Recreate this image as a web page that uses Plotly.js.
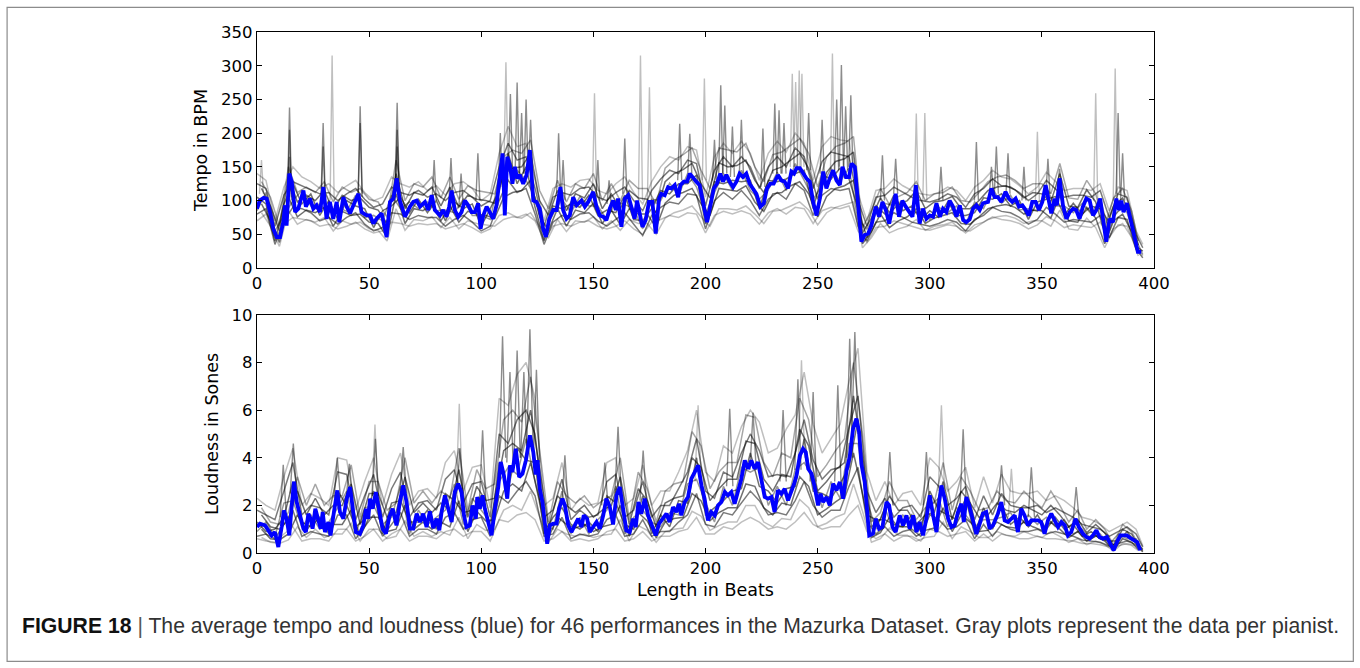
<!DOCTYPE html>
<html>
<head>
<meta charset="utf-8">
<script src="https://cdn.plot.ly/plotly-3.0.1.min.js"></script>
<style>html,body{margin:0;padding:0;background:#fff;}#chart{width:1360px;height:668px;}</style>
</head>
<body>
<div id="chart"></div>
<script>
// ---------- Mean tempo (blue) ----------
const tempoMeanBeats = [0,1.2,3,4.3,5.8,7.3,8.8,10.3,11.7,12.5,13.2,14.4,15.5,17,18.4,20.7,21.8,23.6,25.1,26.6,28.1,29.6,31,32.5,34,35.5,36.7,38.5,40,41.5,43,45.2,46.6,48.9,50.4,51.9,53.3,55.6,57.8,59.3,60.8,62.3,63.7,66,68.2,69.7,71.2,72.7,74.9,76.4,77.9,79.3,81.6,83,84.5,85.7,86.8,88.2,89.7,91.2,92.7,94.2,95.7,97.2,98.6,99.7,100.9,102.4,103.8,105.3,106.8,108,109.5,110.5,111.6,112.8,113.9,115,116,117.2,118.7,120.2,121.7,123.2,124.6,126.1,127.6,128.8,130.3,132.1,133.6,135.3,136.5,138,139.5,141,142.5,144.7,146.2,147.7,149.9,151.4,152.9,154.4,155.8,157.3,158.8,160,161,162.5,164,165.5,167,168.4,169.5,170.7,171.9,173.3,174.8,176.3,177.8,179.3,180.3,181.8,183.3,184.8,186.3,187.8,188.8,190.3,191.8,193,194.4,195.9,197.4,198.9,200.7,202.2,203.7,205.1,206.6,207.8,209.3,210.8,212.3,213.8,215.2,216.7,218.2,219.7,221.2,222.7,224.5,226,227.4,228.9,230.4,232.3,233.8,235.3,236.8,238.3,239.5,240.6,242.1,243.5,245,246.5,248,249.5,251,252.5,253.9,255.4,256.9,258.4,259.9,261.1,262.6,264,265.1,266.6,268.1,269.5,271,272.5,274,275.9,277.4,278.9,280.4,281.9,283.4,284.8,286.3,287.8,289.3,290.8,292.3,293.8,295.5,297,298.5,300,301.5,303,304.5,305.9,307.4,308.9,310.4,311.9,313.4,314.9,316.3,317.8,319.3,320.8,322.3,323.7,326,327.5,328.9,330.4,331.9,333.8,335.3,336.8,338.3,339.8,341.3,342.8,344.2,345.7,347.2,348.7,350.2,351.7,353.2,354.2,355.7,356.7,357.9,359.4,360.9,362.4,363.9,365.3,366.8,368.3,369.8,371.3,372.8,374.3,376,377.2,378.7,380.2,381.7,383.2,384.4,385.4,386.4,387.9,389.1,390.6,392.1,392.8,394.3];
const tempoMean = [88,100,104,103,83,58,46,46,68,93,63,140,128,83,88,115,91,103,88,93,83,120,73,98,73,98,68,105,91,81,93,110,83,78,78,66,73,81,46,98,103,133,100,76,91,98,100,91,98,86,108,86,78,86,76,91,115,86,76,83,100,93,83,83,96,58,78,91,83,73,93,123,170,78,165,152,125,150,133,138,125,138,175,100,98,88,58,46,73,86,86,120,86,73,78,105,93,100,91,98,113,91,78,76,71,88,100,86,103,61,103,108,91,73,100,83,61,71,98,98,51,103,110,108,120,118,123,105,123,128,128,140,133,128,123,98,68,93,118,125,140,128,138,128,120,128,140,135,140,125,118,110,91,96,118,125,125,138,130,128,118,143,140,148,148,140,133,128,98,78,103,143,118,133,145,130,123,150,135,135,155,150,93,39,49,51,63,91,76,98,86,66,91,110,76,100,91,83,76,123,66,88,73,78,76,96,76,88,83,100,91,76,93,71,68,72,88,93,86,96,98,118,105,105,98,113,103,98,103,91,93,86,78,98,98,86,98,123,100,81,103,93,133,93,73,83,88,86,73,91,103,100,78,86,103,71,39,73,68,103,86,100,83,96,78,58,39,24,24];

// ---------- Mean loudness (blue) ----------
const loudMeanBeats = [0,1.3,3.6,5.1,6.5,8,9.5,11,12,13.2,14.4,15.5,16.5,17.7,19.2,20.7,21.8,22.9,23.9,24.8,26,27.3,28.4,29.3,30.3,31.8,32.8,34.3,35.8,37,38.5,40,41.5,42.9,44.1,45.9,47.4,48.6,49.6,50.4,51.6,53,54.5,56,57.5,59,60.5,62.2,63.7,65.2,66.7,68.2,69.7,71.2,72.7,74.1,75.6,77.1,78.6,80.1,81.3,82.3,83.8,85.3,86.8,88.2,89.7,91.2,92.3,93.4,94.9,96.1,97.6,98.2,99.4,100.6,101.6,103.1,104.6,106.1,107.6,108.7,110.1,111.6,112.8,113.9,115.4,116.9,118.4,119.9,121.7,123.2,124.3,125.1,126.1,127.3,128.4,129.4,130.6,132.1,133.6,134.7,136.2,137.3,138.8,140.2,141.7,143.2,144.7,145.7,147.2,148.4,149.9,151.4,152.9,154.4,155.8,157.3,158.8,160.3,161.8,163.2,164.7,166.2,167.7,168.9,170.1,171.4,172.9,174.4,175.9,177.8,179.3,181.1,182.6,184,185.5,187,188.2,189.2,190.7,192.2,193.7,195.2,196.7,198.2,199.6,201.1,202.6,204.1,205.6,207.1,208.6,210,211.5,213,214.5,216,217.5,219,220.4,221.9,223.4,224.9,226.4,227.9,229.4,230.8,232.3,233.8,235.3,236.8,238.3,239.5,240.6,242.1,243.5,244.7,245.8,247.3,248.7,250.2,251.3,252.5,254,255.4,256.9,258.4,259.9,261.4,262.9,264.3,265.8,267.3,268.5,269.5,271,272.1,273,274.7,275.9,277.4,278.9,280.7,281.9,283.4,284.8,286.6,288.1,289.6,291.1,292.6,294.1,295.5,297,298.5,300,301.5,303,304.2,305.2,306.7,308.2,309.7,311.1,312.6,314.1,315.2,316.3,317.6,319.3,320.8,322.3,323.7,325.2,326.7,328.2,330.4,331.9,333.4,334.9,336.4,337.9,339.3,340.8,342.3,343.8,345.3,346.8,348.3,349.7,351.2,352.7,354.2,355.7,357.2,358.7,360.2,361.6,363.1,365,366.5,368.3,369.8,371.3,372.8,374.3,375.7,377.2,379,380.5,382,383.5,385,386.4,387.9,389.9,391.3,392.5,393.9];
const loudMean = [1.09,1.23,1.16,0.95,0.74,0.88,0.25,1.09,1.79,1.44,0.74,2.0,3.0,2.14,1.51,1.02,0.88,1.65,1.44,1.02,1.86,1.44,1.02,1.72,0.88,1.3,0.74,1.72,2.63,1.72,1.44,2.28,2.77,1.72,0.88,0.81,1.16,1.86,1.44,2.28,1.86,2.56,1.72,1.02,0.81,1.51,1.86,1.16,2.14,2.84,2.14,1.02,1.02,1.65,1.3,1.65,1.09,1.75,1.05,1.44,0.95,1.72,2.42,1.93,1.3,2.56,2.91,2.56,1.58,1.09,1.16,2.0,1.44,2.35,1.86,2.42,1.86,1.3,0.74,1.86,2.77,3.82,3.26,2.28,3.68,3.4,4.38,3.19,3.33,3.89,4.94,4.24,3.3,3.9,2.7,2.14,1.16,0.39,1.16,1.23,1.23,1.86,2.28,2.0,1.16,0.88,1.16,1.44,1.09,1.58,1.44,0.88,1.09,1.3,1.02,1.58,2.28,1.95,1.2,2.42,2.77,2.0,0.95,0.88,1.44,1.09,2.14,1.65,2.28,1.58,1.16,0.74,1.23,1.44,1.65,1.3,1.93,1.72,2.07,1.58,2.14,2.35,3.12,3.4,3.68,2.84,2.28,1.37,1.72,1.58,2.0,2.14,2.56,2.42,2.56,2.07,2.56,3.12,3.89,3.54,3.89,3.54,3.82,2.98,2.35,2.28,2.35,1.72,2.63,2.49,2.7,2.21,2.56,2.9,3.26,4.1,4.38,4.24,3.54,3.33,2.77,2.0,2.49,2.14,2.35,2.0,2.91,2.63,2.98,2.28,3.47,4.03,5.22,5.64,5.08,3.75,2.98,1.86,0.74,0.81,1.44,1.02,1.09,2.14,2.0,1.09,0.88,1.58,1.16,1.58,1.02,1.58,0.88,1.3,0.74,1.44,2.42,1.58,0.88,2.14,2.84,2.28,1.44,1.09,1.16,1.72,2.07,1.3,2.35,2.0,1.3,0.8,1.23,1.65,1.72,1.02,1.16,1.65,2.14,1.37,1.3,1.44,1.58,0.88,1.86,1.58,1.16,1.37,1.37,1.37,1.3,0.81,1.37,1.65,1.37,1.09,1.3,1.16,0.74,0.88,1.44,1.09,0.81,0.67,0.6,0.74,0.95,0.67,0.6,0.67,0.39,0.11,0.46,0.74,0.74,0.74,0.6,0.53,0.46,0.11];

// ---------- Gray per-pianist curves ----------
const grayBeats = [0,4,8,12,16,20,24,28,32,36,40,44,48,52,56,60,64,68,72,76,80,84,88,92,96,100,104,108,112,116,120,124,128,132,136,140,144,148,152,156,160,164,168,172,176,180,184,188,192,196,200,204,208,212,216,220,224,228,232,236,240,244,248,252,256,260,264,268,272,276,280,284,288,292,296,300,304,308,312,316,320,324,328,332,336,340,344,348,352,356,360,364,368,372,376,380,384,388,392,395];
const grayBeatsB = [2,6,10,14,18,22,26,30,34,38,42,46,50,54,58,62,66,70,74,78,82,86,90,94,98,102,106,110,114,118,122,126,130,134,138,142,146,150,154,158,162,166,170,174,178,182,186,190,194,198,202,206,210,214,218,222,226,230,234,238,242,246,250,254,258,262,266,270,274,278,282,286,290,294,298,302,306,310,314,318,322,326,330,334,338,342,346,350,354,358,362,366,370,374,378,382,386,390,393];

const tempoGrayDark1 = [125,118,62,108,128,122,115,110,112,100, 110,118,102,90,95,120,112,108,115,105, 110,100,112,115,105,92,100,150,185,160, 165,118,62,105,112,108,118,120,105,100, 112,120,100,85,115,132,145,140,160,155, 92,145,165,150,165,150,118,150,165,150, 178,165,118,158,172,168,165,100,62,105, 108,120,112,105,100,98,102,110,105,90, 110,118,132,122,120,112,100,110,130,118, 105,108,108,105,115,75,110,105,50,30];
const tempoGrayDark2 = [80,88,35,70,90,88,82,70,75,65, 75,82,65,55,60,82,80,72,78,75, 75,62,72,78,68,55,62,100,130,112, 118,80,35,68,78,72,80,82,70,62, 72,82,65,48,78,90,98,95,110,108, 58,100,112,102,115,100,78,102,112,102, 125,115,78,108,118,115,118,62,40,68, 70,82,75,68,65,62,66,72,68,55, 72,78,90,84,82,75,65,72,90,80, 68,72,70,68,78,45,75,72,28,15];
const tempoGrayDark3 = [105,95,40,95,125,95,110,78,100,72, 100,92,88,60,85,92,105,82,102,82, 100,70,98,88,95,62,88,115,170,125, 150,90,40,92,88,95,90,108,78,86, 82,108,72,70,88,115,110,125,125,138, 65,128,125,130,128,130,88,130,128,132, 140,145,88,138,132,148,132,88,45,92, 80,108,85,92,72,85,75,98,78,78, 82,104,102,110,92,100,72,98,102,106, 78,96,80,92,88,68,84,96,32,25];
const tempoGrayMid = [85,112,55,78,100,115,92,95,82,90, 84,108,75,78,70,108,88,98,88,98, 85,86,82,102,78,78,72,135,150,145, 130,105,52,80,102,82,106,92,92,72, 98,94,88,58,102,100,126,108,140,120, 80,112,140,115,145,115,102,116,142,115, 155,130,102,122,148,128,148,72,58,80, 96,92,100,78,88,72,90,82,92,64, 98,88,118,96,108,86,88,84,118,92, 92,82,96,80,102,55,100,82,42,20];
const tempoGrayLightSlow = [70,80,45,65,75,72,70,62,65,58, 62,68,58,52,55,68,66,62,66,64, 66,58,62,66,60,52,58,78,82,75, 80,70,42,62,66,62,68,70,62,58, 62,70,58,50,68,72,78,75,82,80, 52,78,84,80,85,80,65,82,88,80, 90,88,66,85,90,88,92,55,38,60, 62,70,66,62,58,56,60,64,62,52, 64,68,76,72,70,66,58,64,76,70, 60,64,62,60,68,45,64,62,30,18];
const tempoGrayLightFast = [140,130,70,120,150,135,128,118,125,112, 122,130,112,100,105,135,125,120,128,115, 122,108,125,128,118,100,110,170,210,180, 185,130,70,118,125,120,130,132,115,110, 125,135,112,95,128,150,165,160,180,175, 105,165,185,170,188,170,130,170,188,172, 200,185,130,180,195,190,188,110,70,115, 118,132,122,115,110,108,112,120,115,100, 120,130,145,135,132,122,110,120,142,128, 115,118,118,115,125,85,120,115,55,35];
const tempoGrayDark4 = [118,92,55,135,98,108,100,115,85,108, 100,104,90,86,66,140,88,112,108,120, 92,120,90,108,102,100,96,140,148,150, 170,100,78,115,85,110,104,125,88,110, 88,115,104,102,82,128,140,146,155,125, 104,156,150,152,160,130,112,145,150,160, 170,148,102,142,158,162,172,52,74,104, 82,94,100,115,88,98,100,106,88,88, 100,115,120,122,116,104,112,110,98,140, 92,90,116,98,52,92,104,74,34];
const tempoGrayDark5 = [95,70,38,105,76,86,82,90,62,84, 78,80,68,66,46,110,66,88,85,94, 70,92,68,84,80,78,74,105,112,115, 130,76,56,88,62,86,82,96,66,86, 64,88,80,80,60,96,108,112,118,95, 78,118,116,114,122,98,84,110,112,122, 128,110,76,106,118,122,130,36,54,80, 60,70,76,88,66,74,78,82,66,65, 76,88,92,94,90,80,86,85,74,108, 70,68,90,74,36,70,80,54,24];
const tempoGrayMid2 = [128,105,62,150,112,120,112,128,98,120, 112,118,102,98,75,160,100,125,120,135, 104,135,102,122,115,112,110,165,175,170, 190,115,88,130,98,125,118,140,100,125, 100,130,118,118,95,148,160,168,178,145, 118,178,175,172,185,150,128,168,172,182, 192,170,120,165,180,185,195,60,85,118, 94,106,112,128,100,110,112,120,100,98, 112,128,135,138,130,118,125,125,110,155, 104,102,130,110,60,104,118,85,40];
const tempoGrayLightLow2 = [82,62,32,85,65,72,68,75,55,70, 65,68,58,56,40,88,56,72,70,76, 60,75,58,70,66,64,62,72,76,74, 82,62,45,72,54,70,68,76,58,70, 56,72,66,66,50,74,82,86,92,76, 62,88,88,86,92,80,66,84,86,92, 98,86,64,82,90,94,98,30,45,66, 52,58,62,72,56,62,64,68,56,55, 64,72,76,78,74,66,70,70,62,86, 58,56,74,60,30,58,66,46,18];

const loudGrayDark1 = [1.8,1.6,1.4,2.6,3.8,1.6,2.0,1.9,1.6,3.4, 3.3,1.4,2.4,3.3,1.5,2.7,3.4,1.5,2.1,2.2, 1.8,3.1,3.5,2.1,2.9,3.0,1.5,5.0,4.6,5.6, 6.0,5.0,1.5,1.8,3.1,1.4,1.8,1.5,1.6,3.0, 3.3,1.5,1.8,3.0,1.5,2.0,2.0,2.7,3.4,4.8, 2.6,2.3,3.4,3.2,4.2,5.0,4.3,3.2,3.3,3.2, 4.2,5.6,3.9,3.1,3.5,3.6,5.3,6.6,2.6,1.7, 2.3,1.5,1.9,2.0,1.5,3.2,2.8,2.0,2.3,2.8, 1.4,2.4,1.6,2.5,2.0,1.9,1.9,2.0,1.7,1.9, 1.7,1.5,1.2,1.1,1.0,0.7,0.9,1.1,0.8,0.25];
const loudGrayDark2 = [0.7,0.8,0.6,1.2,1.8,0.7,0.9,0.8,0.7,1.6, 1.6,0.6,1.1,1.6,0.7,1.2,1.7,0.7,1.0,1.0, 0.8,1.5,1.7,1.0,1.4,1.5,0.7,2.4,2.1,2.6, 3.0,2.4,0.7,0.8,1.5,0.6,0.8,0.7,0.8,1.4, 1.6,0.7,0.8,1.4,0.7,0.9,0.9,1.3,1.6,2.5, 1.2,1.1,1.7,1.6,2.1,2.6,2.2,1.6,1.7,1.6, 2.2,3.0,2.0,1.5,1.8,1.8,2.8,3.6,1.3,0.8, 1.1,0.7,0.9,1.0,0.7,1.6,1.4,1.0,1.1,1.4, 0.6,1.2,0.7,1.2,1.0,0.9,0.9,1.0,0.8,0.9, 0.8,0.7,0.55,0.5,0.45,0.3,0.4,0.5,0.35,0.05];
const loudGrayDark3 = [1.3,0.9,1.0,1.5,3.0,1.3,1.1,1.5,0.8,2.6, 2.0,1.1,1.4,2.6,0.8,2.1,2.2,1.3,1.3,1.8, 1.0,2.5,2.2,1.7,1.8,2.4,0.9,3.8,2.7,4.4, 3.9,3.8,0.8,1.5,1.9,1.2,1.0,1.3,0.9,2.4, 2.1,1.2,1.0,2.4,0.8,1.6,1.1,2.2,2.1,4.0, 1.6,1.9,2.2,2.6,2.7,4.2,2.8,2.6,2.1,2.7, 2.8,4.8,2.6,2.5,2.3,2.9,3.6,5.6,1.6,1.4, 1.4,1.2,1.1,1.6,0.9,2.6,1.8,1.6,1.4,2.3, 0.8,1.9,1.0,2.0,1.2,1.5,1.1,1.6,1.0,1.5, 1.0,1.2,0.7,0.9,0.6,0.5,0.5,0.9,0.4,0.15];
const loudGrayMid = [0.9,1.3,0.7,2.1,2.2,1.1,1.6,1.0,1.3,1.9, 2.6,0.8,1.9,2.0,1.2,1.5,2.8,0.8,1.8,1.2, 1.5,1.8,2.9,1.2,2.3,1.8,1.3,3.0,3.6,3.3, 4.8,3.0,1.2,1.0,2.6,0.8,1.5,0.8,1.4,1.8, 2.8,0.8,1.5,1.8,1.3,1.1,1.7,1.6,2.9,3.1, 2.1,1.3,2.8,2.0,3.6,3.4,3.6,2.0,2.8,2.0, 3.5,3.8,3.2,1.9,3.0,2.3,4.6,4.6,2.2,1.0, 1.9,0.9,1.6,1.2,1.2,2.0,2.3,1.1,1.9,1.6, 1.1,1.4,1.4,1.5,1.7,1.1,1.6,1.2,1.5,1.1, 1.4,0.8,1.0,0.6,0.8,0.35,0.8,0.6,0.6,0.1];
const loudGrayLightSoft = [0.6,0.5,0.45,0.8,1.1,0.5,0.6,0.6,0.5,1.0, 1.0,0.5,0.7,1.0,0.5,0.8,1.0,0.5,0.7,0.7, 0.6,0.9,1.0,0.7,0.9,0.9,0.5,1.4,1.3,1.6, 1.7,1.4,0.5,0.6,0.9,0.5,0.6,0.5,0.6,0.9, 1.0,0.5,0.6,0.9,0.5,0.7,0.7,0.9,1.0,1.5, 0.8,0.8,1.1,1.0,1.3,1.5,1.3,1.0,1.1,1.0, 1.3,1.7,1.2,1.0,1.1,1.1,1.6,2.0,0.9,0.6, 0.8,0.5,0.7,0.7,0.5,1.0,0.9,0.7,0.8,0.9, 0.5,0.8,0.5,0.8,0.7,0.6,0.6,0.7,0.6,0.6, 0.55,0.5,0.4,0.4,0.35,0.25,0.3,0.4,0.3,0.05];
const loudGrayLightLoud = [2.3,2.0,1.8,3.2,4.4,2.0,2.5,2.3,2.0,4.0, 3.9,1.8,3.0,4.0,2.0,3.3,4.2,2.0,2.6,2.7, 2.3,3.8,4.3,2.6,3.6,3.7,1.9,6.5,6.2,7.5, 8.0,6.5,2.0,2.3,3.8,1.8,2.3,2.0,2.1,3.8, 4.0,2.0,2.3,3.7,2.0,2.6,2.6,3.4,4.3,6.0, 3.4,3.0,4.5,4.2,5.3,6.0,5.5,4.2,4.4,5.2, 5.8,7.6,5.4,4.2,4.8,5.4,7.2,8.6,3.4,2.2, 3.0,2.0,2.5,2.6,2.0,4.0,3.6,2.6,3.0,3.6, 1.9,3.2,2.1,3.3,2.6,2.5,2.5,2.6,2.2,2.4, 2.2,1.9,1.5,1.4,1.2,0.9,1.1,1.3,1.0,0.3];
const loudGrayDark4 = [1.6,1.1,1.0,1.4,2.6,1.6,2.3,1.6,2.0,2.0, 2.9,1.2,2.5,2.5,1.5,1.7,3.2,1.7,2.1,1.7, 2.1,1.8,3.5,1.5,2.8,2.2,2.3,4.3,4.6,4.3, 6.0,3.5,1.1,2.4,2.0,1.7,2.0,1.5,1.8,2.0, 3.2,1.2,2.7,2.2,1.1,2.1,2.3,2.4,4.0,3.6, 2.2,2.7,3.1,3.1,4.7,4.6,3.1,2.6,3.3,3.2, 5.2,4.5,2.6,3.0,3.5,3.8,6.6,4.1,1.1,1.4, 2.4,1.8,1.8,1.2,1.6,1.7,3.0,1.4,2.6,2.1, 1.5,1.6,2.1,1.8,1.7,2.0,1.8,1.6,2.0,1.6, 1.1,1.4,0.85,1.2,0.85,0.3,1.0,0.8,0.3];
const loudGrayDark5 = [1.0,0.6,0.55,0.8,1.6,0.95,1.45,0.95,1.2,1.2, 1.8,0.7,1.5,1.5,0.9,1.0,2.0,1.0,1.3,1.0, 1.3,1.1,2.2,0.9,1.75,1.35,1.4,2.6,2.9,2.6, 3.8,2.2,0.65,1.5,1.2,1.05,1.2,0.9,1.1,1.2, 2.0,0.7,1.7,1.35,0.65,1.3,1.45,1.5,2.5,2.2, 1.35,1.7,1.9,1.9,2.9,2.8,1.9,1.6,2.1,2.0, 3.2,2.8,1.6,1.85,2.15,2.4,4.2,2.5,0.65,0.85, 1.5,1.1,1.1,0.7,0.95,1.05,1.9,0.9,1.6,1.3, 0.9,0.95,1.3,1.1,1.05,1.3,1.1,0.95,1.3,1.0, 0.65,0.9,0.5,0.72,0.5,0.12,0.6,0.46,0.15];
const loudGrayMid2 = [1.9,1.3,1.2,1.7,3.2,2.0,2.9,2.0,2.4,2.4, 3.7,1.5,3.0,3.0,1.8,2.1,4.0,2.1,2.6,2.1, 2.6,2.3,4.4,1.8,3.5,2.7,2.9,5.6,6.0,5.5, 7.4,4.4,1.3,3.0,2.4,2.1,2.4,1.9,2.2,2.4, 4.0,1.4,3.4,2.7,1.3,2.6,2.9,3.0,5.1,4.5, 2.7,3.4,3.8,3.8,5.8,5.7,3.8,3.2,4.2,4.0, 6.5,5.6,3.2,3.7,4.3,4.8,8.0,5.0,1.3,1.7, 3.0,2.2,2.2,1.4,1.9,2.1,3.8,1.8,3.2,2.6, 1.8,1.9,2.6,2.2,2.1,2.6,2.2,1.9,2.6,2.0, 1.3,1.8,1.0,1.4,1.0,0.35,1.2,0.9,0.35];
const loudGrayLightLow2 = [0.65,0.45,0.4,0.55,1.1,0.65,1.0,0.65,0.8,0.8, 1.25,0.5,1.0,1.0,0.6,0.7,1.35,0.7,0.9,0.7, 0.9,0.75,1.5,0.6,1.2,0.95,1.0,1.8,2.0,1.8, 2.6,1.5,0.45,1.0,0.8,0.7,0.8,0.65,0.75,0.8, 1.4,0.5,1.15,0.95,0.45,0.9,1.0,1.05,1.75,1.55, 0.95,1.15,1.3,1.3,2.0,2.0,1.3,1.1,1.45,1.4, 2.25,1.9,1.1,1.25,1.5,1.65,2.9,1.75,0.45,0.6, 1.05,0.75,0.75,0.5,0.65,0.7,1.3,0.6,1.1,0.9, 0.65,0.65,0.9,0.75,0.7,0.9,0.75,0.65,0.9,0.7, 0.45,0.6,0.35,0.5,0.35,0.08,0.4,0.32,0.1];

// ---------- Single-beat peaks of individual pianists: [beat, peak, level around it] ----------
const tempoPeaksDark = [[14.5,238,110],[14.5,205,105],[14.5,165,100],[29.5,215,110],[29.5,180,100],[46,240,110],[46,215,105],[62.5,245,120],[62.5,205,110],[62.5,180,105],[79,160,100],[86.5,163,100],[91,140,95],[98.5,170,100],[108.5,200,120],[113,258,150],[116,275,140],[118,230,140],[120,250,140],[122,220,150],[134.5,200,110],[136.5,160,100],[152,160,100],[157,130,95],[164,192,110],[188.5,214,130],[193,199,140],[204,190,130],[206.8,271,140],[208.6,241,140],[212,210,135],[216,220,140],[225.6,207,120],[230.9,244,140],[232.8,234,140],[235,215,140],[246,230,145],[252,220,140],[258.5,250,145],[260.6,301,150],[262.5,240,145],[264.8,256,150],[278.9,167,100],[284.8,162,110],[305,150,100],[320.8,187,100],[327.5,150,110],[329.7,180,110],[334.9,170,110],[342,150,100],[352.7,162,110],[357.9,147,120],[384,230,110],[386,170,100]];
const tempoPeaksLight = [[2,160,110],[33.5,315,100],[111,305,150],[150.5,259,110],[171,315,100],[175,268,100],[199.5,281,130],[238.7,288,150],[240.2,276,150],[241.8,293,150],[243,288,150],[256.6,318,140],[294,229,100],[297.8,230,100],[348,202,100],[374,259,100],[382.7,296,100]];
const loudPeaksDark = [[11.7,3.7,1.5],[16.2,4.6,2.5],[35.8,4.0,2.3],[41.2,3.75,2.3],[52.8,4.8,2.4],[65.2,4.45,2.5],[90.5,4.4,2.5],[100.6,5.15,2.2],[109.5,9.1,4.0],[112.8,7.6,3.8],[116,8.5,4.0],[119,7.6,4.0],[121.7,9.4,4.5],[124.6,7.7,3.8],[137.3,4.1,2.0],[155.1,3.8,2.0],[161,5.3,2.5],[172.2,4.3,2.2],[210.8,6.06,2.8],[221.2,5.9,3.5],[234.6,6.0,3.0],[241.2,7.3,3.5],[248,6.76,3.0],[259,7.04,3.0],[264.3,9.0,4.0],[266.6,9.28,5.0],[282.2,4.24,2.0],[298.5,4.24,2.0],[314.9,5.2,2.0],[332,3.68,2.0],[345.3,3.6,1.5],[365.3,2.77,1.3]];
const loudPeaksLight = [[52.6,5.4,2.4],[90.2,6.27,2.5],[196.7,6.2,3.0],[242.8,8.09,4.0],[305.2,6.2,2.6],[336.4,3.54,1.5]];

const xTicks = [0,50,100,150,200,250,300,350,400];
const tempoTicks = [0,50,100,150,200,250,300,350];
const loudTicks = [0,2,4,6,8,10];

// ---------- build traces ----------
function grayLine(xs, y, xa, ya, alpha) {
  return {x: xs, y: y, xaxis: xa, yaxis: ya, type: 'scatter', mode: 'lines',
    line: {color: 'rgba(0,0,0,' + alpha + ')', width: 1.5}, hoverinfo: 'skip', showlegend: false};
}
function peakLines(peaks, half, xa, ya, alpha) {
  const xs = [], ys = [];
  peaks.forEach(p => { xs.push(p[0] - half, p[0], p[0] + half, null); ys.push(p[2], p[1], p[2], null); });
  return {x: xs, y: ys, xaxis: xa, yaxis: ya, type: 'scatter', mode: 'lines',
    line: {color: 'rgba(0,0,0,' + alpha + ')', width: 1.4}, hoverinfo: 'skip', showlegend: false};
}
const traces = [
  grayLine(grayBeats, tempoGrayLightSlow, 'x', 'y', 0.25),
  grayLine(grayBeats, tempoGrayLightFast, 'x', 'y', 0.25),
  grayLine(grayBeatsB, tempoGrayLightLow2, 'x', 'y', 0.25),
  grayLine(grayBeats, tempoGrayMid, 'x', 'y', 0.4),
  grayLine(grayBeatsB, tempoGrayMid2, 'x', 'y', 0.35),
  grayLine(grayBeats, tempoGrayDark1, 'x', 'y', 0.52),
  grayLine(grayBeats, tempoGrayDark2, 'x', 'y', 0.52),
  grayLine(grayBeats, tempoGrayDark3, 'x', 'y', 0.56),
  grayLine(grayBeatsB, tempoGrayDark4, 'x', 'y', 0.56),
  grayLine(grayBeatsB, tempoGrayDark5, 'x', 'y', 0.56),
  peakLines(tempoPeaksLight, 0.9, 'x', 'y', 0.25),
  peakLines(tempoPeaksDark, 0.9, 'x', 'y', 0.45),
  {x: tempoMeanBeats, y: tempoMean, xaxis: 'x', yaxis: 'y', type: 'scatter', mode: 'lines',
   line: {color: '#0000ff', width: 3.8}, showlegend: false},
  grayLine(grayBeats, loudGrayLightSoft, 'x2', 'y2', 0.25),
  grayLine(grayBeats, loudGrayLightLoud, 'x2', 'y2', 0.25),
  grayLine(grayBeatsB, loudGrayLightLow2, 'x2', 'y2', 0.25),
  grayLine(grayBeats, loudGrayMid, 'x2', 'y2', 0.4),
  grayLine(grayBeatsB, loudGrayMid2, 'x2', 'y2', 0.35),
  grayLine(grayBeats, loudGrayDark1, 'x2', 'y2', 0.52),
  grayLine(grayBeats, loudGrayDark2, 'x2', 'y2', 0.52),
  grayLine(grayBeats, loudGrayDark3, 'x2', 'y2', 0.56),
  grayLine(grayBeatsB, loudGrayDark4, 'x2', 'y2', 0.56),
  grayLine(grayBeatsB, loudGrayDark5, 'x2', 'y2', 0.56),
  peakLines(loudPeaksLight, 1.4, 'x2', 'y2', 0.25),
  peakLines(loudPeaksDark, 1.4, 'x2', 'y2', 0.45),
  {x: loudMeanBeats, y: loudMean, xaxis: 'x2', yaxis: 'y2', type: 'scatter', mode: 'lines',
   line: {color: '#0000ff', width: 3.8}, showlegend: false}
];

const tickFont = {family: 'DejaVu Sans, sans-serif', size: 16.5, color: '#000'};
const titleFont = {family: 'DejaVu Sans, sans-serif', size: 17.5, color: '#000'};
function axisBase(extra) {
  return Object.assign({showline: true, linecolor: '#000', linewidth: 1.3, mirror: 'allticks',
    ticks: 'inside', ticklen: 5, tickwidth: 1, tickcolor: '#000', showgrid: false, zeroline: false,
    tickfont: tickFont, fixedrange: true}, extra);
}

const layout = {
  width: 1360, height: 668,
  margin: {l: 257, r: 205.5, t: 31.7, b: 115.4, pad: 0},
  paper_bgcolor: '#fff', plot_bgcolor: '#fff',
  showlegend: false,
  xaxis: axisBase({domain: [0, 1], anchor: 'y', range: [0, 400], tickvals: xTicks, ticktext: xTicks.map(String)}),
  yaxis: axisBase({domain: [0.547, 1], anchor: 'x', range: [0, 350], tickvals: tempoTicks, ticktext: tempoTicks.map(String),
    title: {text: 'Tempo in BPM', font: titleFont, standoff: 8}}),
  xaxis2: axisBase({domain: [0, 1], anchor: 'y2', range: [0, 400], tickvals: xTicks, ticktext: xTicks.map(String),
    title: {text: 'Length in Beats', font: titleFont, standoff: 6}}),
  yaxis2: axisBase({domain: [0, 0.457], anchor: 'x2', range: [0, 10], tickvals: loudTicks, ticktext: loudTicks.map(String),
    title: {text: 'Loudness in Sones', font: titleFont, standoff: 8}}),
  shapes: [
    {type: 'rect', xref: 'paper', yref: 'paper', x0: -0.2786, x1: 1.2222, y0: -0.2081, y1: 1.0474,
     line: {color: '#8c8c8c', width: 1.2}, fillcolor: 'rgba(0,0,0,0)', layer: 'below'}
  ],
  annotations: [
    {xref: 'paper', yref: 'paper', x: -0.2641, y: -0.1409, xanchor: 'left', yanchor: 'middle', showarrow: false,
     align: 'left',
     text: '<b><span style="color:#111">FIGURE 18</span></b> <span style="color:#555">|</span> The average tempo and loudness (blue) for 46 performances in the Mazurka Dataset. Gray plots represent the data per pianist.',
     font: {family: 'Liberation Sans, Arial, sans-serif', size: 21.2, color: '#333'}}
  ]
};

Plotly.newPlot('chart', traces, layout, {displayModeBar: false, staticPlot: true});
</script>
</body>
</html>
